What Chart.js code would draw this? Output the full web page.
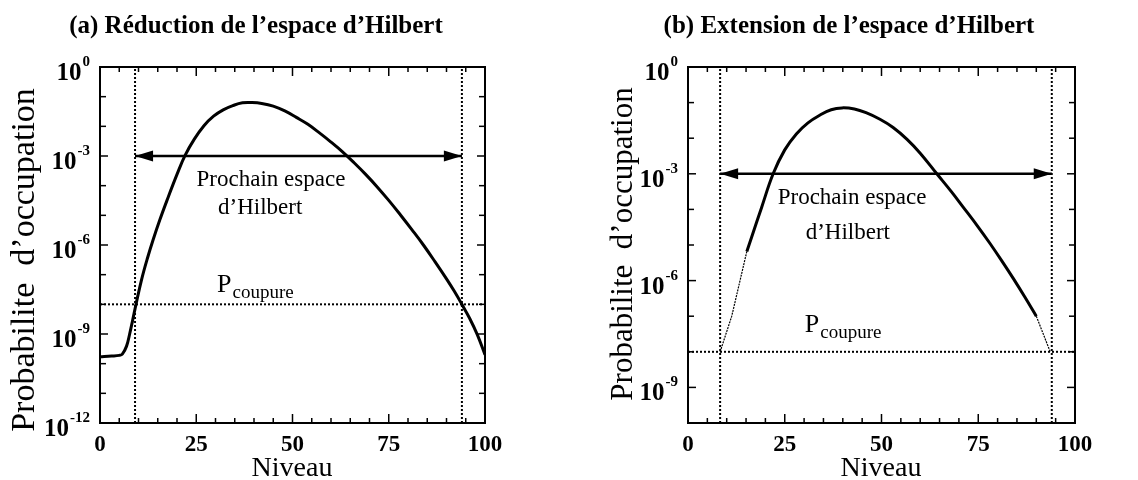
<!DOCTYPE html>
<html>
<head>
<meta charset="utf-8">
<script src="https://cdn.jsdelivr.net/npm/chart.js@4.4.0/dist/chart.umd.min.js"></script>
<style>
  body { margin: 0; background: #fff; }
  #wrap { position: relative; width: 1138px; height: 480px; }
  canvas { position: absolute; top: 0; }
</style>
</head>
<body>
<div id="wrap">
  <canvas id="chartA" width="569" height="480" style="left:0"></canvas>
  <canvas id="chartB" width="569" height="480" style="left:569px"></canvas>
</div>
<script>
// (a) reduction : niveau -> probabilite d'occupation
const niveauxA = [0, 3, 5, 5.8, 6.9, 7.7, 8.5, 9.35, 10.8, 12.3, 13.8, 15.5, 17.4, 20, 22.1, 24.5, 27,
                  29.5, 32, 34.5, 37, 39.5, 42, 45, 48, 51, 54, 57, 60, 63, 66, 69, 72, 75, 78, 81, 84,
                  87, 90, 92, 94, 96, 98, 100];
const probaA = [1.7e-10, 1.8e-10, 1.9e-10, 2.1e-10, 3.9e-10, 1.0e-9, 3.0e-9, 1.0e-8, 6.8e-8, 3.5e-7,
                1.5e-6, 6.8e-6, 3.2e-5, 2.4e-4, 1.05e-3, 3.7e-3, 1.05e-2, 2.2e-2, 3.6e-2, 5.0e-2,
                6.2e-2, 6.3e-2, 5.9e-2, 4.8e-2, 3.3e-2, 2.0e-2, 1.17e-2, 6.0e-3, 2.95e-3, 1.38e-3,
                5.9e-4, 2.4e-4, 9.1e-5, 3.2e-5, 1.05e-5, 3.3e-6, 1.0e-6, 2.75e-7, 7.2e-8, 2.8e-8,
                1.0e-8, 3.4e-9, 9.5e-10, 2.0e-10];

// (b) extension
const niveauxB = [15.2, 16.5, 19, 22, 25, 28, 31, 34, 37, 39.8, 43, 46, 49.6, 53, 56.6, 60, 64.3,
                  68, 71, 75, 78, 81, 84, 87, 90];
const probaB = [6.6e-6, 1.74e-5, 1.12e-4, 1.0e-3, 4.7e-3, 1.32e-2, 2.7e-2, 4.4e-2, 6.3e-2, 7.1e-2,
                6.6e-2, 5.2e-2, 3.4e-2, 2.0e-2, 9.3e-3, 3.8e-3, 1.0e-3, 3.2e-4, 1.2e-4, 3.2e-5,
                1.12e-5, 3.7e-6, 1.17e-6, 3.5e-7, 1.0e-7];
const niveauxBgauche = [8.3, 11.3, 15.2];
const probaBgauche = [1.0e-8, 1.0e-7, 6.6e-6];
const niveauxBdroite = [90, 93.6];
const probaBdroite = [1.0e-7, 1.0e-8];

const pCoupure = 1e-8;
const niveauFleche = 1e-3;
const limitesA = [9.1, 94];
const limitesB = [8.3, 94];

const xLabels = [0, 25, 50, 75, 100];
const xPetits = [5, 10, 15, 20, 30, 35, 40, 45, 55, 60, 65, 70, 80, 85, 90, 95];
const decadesA = [0, -1, -2, -3, -4, -5, -6, -7, -8, -9, -10, -11, -12];
const decadesB = [0, -1, -2, -3, -4, -5, -6, -7, -8, -9, -10];
const exposantsA = [0, -3, -6, -9, -12];
const exposantsB = [0, -3, -6, -9];

const SERIF = '"Liberation Serif", "DejaVu Serif", serif';

function pts(xs, ys) {
  return xs.map((v, i) => ({ x: v, y: ys[i] }));
}

function ligne(data, width, dash, tension) {
  return {
    data: data,
    borderColor: '#000',
    borderWidth: width,
    borderDash: dash || [],
    pointRadius: 0,
    tension: tension || 0,
    fill: false
  };
}

const habillage = {
  id: 'habillage',
  afterDatasetsDraw(chart, args, o) {
    const ctx = chart.ctx;
    const a = chart.chartArea;
    const x = chart.scales.x, y = chart.scales.y;
    ctx.save();
    ctx.strokeStyle = '#000';
    ctx.fillStyle = '#000';

    // pointes de la fleche
    const meta = chart.getDatasetMeta(o.fleche);
    const p0 = meta.data[0], p1 = meta.data[1];
    [[p0, 1], [p1, -1]].forEach(([p, s]) => {
      ctx.beginPath();
      ctx.moveTo(p.x, p.y);
      ctx.lineTo(p.x + s * 18, p.y - 5.5);
      ctx.lineTo(p.x + s * 18, p.y + 5.5);
      ctx.closePath();
      ctx.fill();
    });

    // cadre
    ctx.lineWidth = 2;
    ctx.strokeRect(a.left, a.top, a.right - a.left, a.bottom - a.top);

    // graduations vers l'interieur
    ctx.lineWidth = 1.5;
    const trait = (x0, y0, x1, y1) => {
      ctx.beginPath(); ctx.moveTo(x0, y0); ctx.lineTo(x1, y1); ctx.stroke();
    };
    xLabels.concat(xPetits).forEach(v => {
      const px = x.getPixelForValue(v);
      const len = xLabels.includes(v) ? 9 : 5;
      trait(px, a.bottom, px, a.bottom - len);
      trait(px, a.top, px, a.top + len);
    });
    o.decades.forEach(e => {
      const py = y.getPixelForValue(Math.pow(10, e));
      const len = o.exposants.includes(e) ? 8 : 6;
      trait(a.left, py, a.left + len, py);
      trait(a.right, py, a.right - len, py);
    });

    // etiquettes x
    ctx.font = 'bold 23px ' + SERIF;
    ctx.textAlign = 'center';
    ctx.textBaseline = 'middle';
    xLabels.forEach(v => ctx.fillText(String(v), x.getPixelForValue(v), a.bottom + 22));

    // etiquettes y : 10 puissance
    o.exposants.forEach(e => {
      const py = y.getPixelForValue(Math.pow(10, e));
      ctx.font = 'bold 15px ' + SERIF;
      const exp = e === 0 ? '0' : '-' + Math.abs(e);
      const we = ctx.measureText(exp).width;
      ctx.textAlign = 'right';
      ctx.textBaseline = 'alphabetic';
      const xr = a.left - 10;
      ctx.fillText(exp, xr, py - 1);
      ctx.font = 'bold 25px ' + SERIF;
      ctx.fillText('10', xr - we - 1, py + 13);
    });

    // titres
    ctx.textAlign = 'center';
    ctx.textBaseline = 'middle';
    ctx.font = 'bold 25px ' + SERIF;
    ctx.fillText(o.titre, o.titreX, 27);
    ctx.font = '28px ' + SERIF;
    ctx.fillText('Niveau', o.niveauX, 469);
    ctx.save();
    ctx.translate(o.axeY[0], o.axeY[1]);
    ctx.rotate(-Math.PI / 2);
    ctx.font = o.axeY[2] + 'px ' + SERIF;
    ctx.fillText('Probabilite  d\u2019occupation', 0, 0);
    ctx.restore();

    // annotations
    ctx.font = '23px ' + SERIF;
    ctx.fillText('Prochain espace', x.getPixelForValue(o.prochain[0]), y.getPixelForValue(o.prochain[1]));
    ctx.fillText('d\u2019Hilbert', x.getPixelForValue(o.hilbert[0]), y.getPixelForValue(o.hilbert[1]));
    const px = x.getPixelForValue(o.coupure[0]);
    const py = y.getPixelForValue(o.coupure[1]);
    ctx.textAlign = 'left';
    ctx.font = '26px ' + SERIF;
    ctx.fillText('P', px, py);
    const wp = ctx.measureText('P').width;
    ctx.font = '19px ' + SERIF;
    ctx.fillText('coupure', px + wp + 1, py + 8);
    ctx.restore();
  }
};

function graphe(id, courbes, limites, ymin, decades, exposants, pad, extra) {
  const datasets = courbes.slice();
  datasets.push(ligne(pts([limites[0], limites[0]], [ymin, 1]), 2, [2, 2]));
  datasets.push(ligne(pts([limites[1], limites[1]], [ymin, 1]), 2, [2, 2]));
  datasets.push(ligne(pts([0, 100], [pCoupure, pCoupure]), 2, [2, 2]));
  datasets.push(ligne(pts(limites, [niveauFleche, niveauFleche]), 2.5));
  return new Chart(document.getElementById(id), {
    type: 'line',
    data: { datasets: datasets },
    options: {
      responsive: false,
      animation: false,
      layout: { padding: pad },
      scales: {
        x: { type: 'linear', min: 0, max: 100, display: false },
        y: { type: 'logarithmic', min: ymin, max: 1, display: false }
      },
      plugins: {
        legend: { display: false },
        tooltip: { enabled: false },
        habillage: Object.assign({ fleche: datasets.length - 1, decades: decades, exposants: exposants }, extra)
      }
    },
    plugins: [habillage]
  });
}

graphe('chartA',
  [ligne(pts(niveauxA, probaA), 3, [], 0.4)],
  limitesA, 1e-12, decadesA, exposantsA,
  { left: 100, right: 84, top: 67, bottom: 57 },
  {
    titre: '(a) R\u00e9duction de l\u2019espace d\u2019Hilbert', titreX: 256, niveauX: 292,
    axeY: [25, 260, 34],
    prochain: [44.4, 10 ** -3.8], hilbert: [41.6, 10 ** -4.75], coupure: [30.4, 10 ** -7.34]
  });

graphe('chartB',
  [ligne(pts(niveauxB, probaB), 3, [], 0.4),
   ligne(pts(niveauxBgauche, probaBgauche), 1.2, [2, 1]),
   ligne(pts(niveauxBdroite, probaBdroite), 1.2, [2, 1])],
  limitesB, 1e-10, decadesB, exposantsB,
  { left: 119, right: 63, top: 67, bottom: 57 },
  {
    titre: '(b) Extension de l\u2019espace d\u2019Hilbert', titreX: 280, niveauX: 312,
    axeY: [55, 244, 31],
    prochain: [42.4, 10 ** -3.68], hilbert: [41.3, 10 ** -4.66], coupure: [30.2, 10 ** -7.25]
  });
</script>
</body>
</html>
